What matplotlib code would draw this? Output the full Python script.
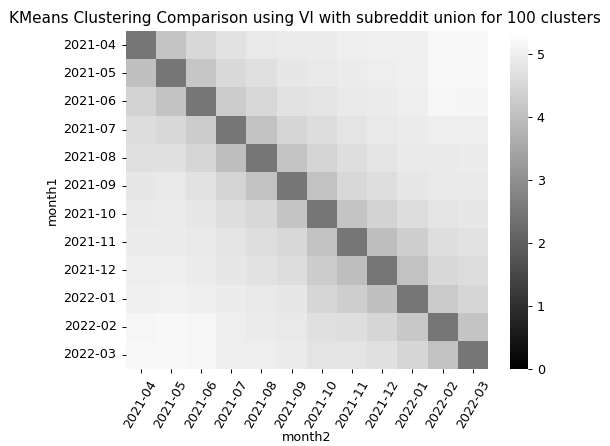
import numpy as np
import pandas as pd
import matplotlib
matplotlib.use("Agg")
import matplotlib.pyplot as plt
import seaborn as sns

months = ["2021-04", "2021-05", "2021-06", "2021-07", "2021-08", "2021-09",
          "2021-10", "2021-11", "2021-12", "2022-01", "2022-02", "2022-03"]

# VI values (diagonal shown as mid gray)
row_2021_04 = [2.47, 4.11, 4.53, 4.74, 4.87, 4.93, 4.95, 5.01, 5.03, 5.03, 5.20, 5.22]
row_2021_05 = [4.03, 2.47, 4.15, 4.57, 4.70, 4.83, 4.89, 4.95, 4.99, 5.03, 5.20, 5.20]
row_2021_06 = [4.41, 4.09, 2.47, 4.28, 4.53, 4.74, 4.78, 4.87, 4.93, 4.99, 5.16, 5.14]
row_2021_07 = [4.62, 4.53, 4.28, 2.47, 4.07, 4.49, 4.62, 4.78, 4.87, 4.95, 4.99, 4.99]
row_2021_08 = [4.70, 4.70, 4.49, 3.99, 2.47, 4.11, 4.45, 4.66, 4.78, 4.87, 4.91, 4.95]
row_2021_09 = [4.83, 4.87, 4.74, 4.45, 4.07, 2.47, 4.07, 4.53, 4.66, 4.83, 4.87, 4.91]
row_2021_10 = [4.91, 4.93, 4.83, 4.66, 4.53, 4.11, 2.47, 4.11, 4.41, 4.62, 4.78, 4.83]
row_2021_11 = [4.95, 4.95, 4.87, 4.78, 4.66, 4.53, 4.07, 2.47, 3.99, 4.32, 4.66, 4.74]
row_2021_12 = [4.99, 5.01, 4.95, 4.83, 4.74, 4.62, 4.28, 3.99, 2.47, 4.07, 4.53, 4.62]
row_2022_01 = [5.03, 5.05, 5.01, 4.95, 4.87, 4.83, 4.49, 4.32, 4.03, 2.47, 4.24, 4.49]
row_2022_02 = [5.16, 5.20, 5.16, 4.99, 4.93, 4.87, 4.70, 4.66, 4.49, 4.20, 2.47, 4.11]
row_2022_03 = [5.20, 5.20, 5.16, 4.99, 4.99, 4.95, 4.78, 4.78, 4.70, 4.49, 4.07, 2.47]

rows = [row_2021_04, row_2021_05, row_2021_06, row_2021_07, row_2021_08, row_2021_09,
        row_2021_10, row_2021_11, row_2021_12, row_2022_01, row_2022_02, row_2022_03]

df = pd.DataFrame(rows, index=months, columns=months)
df.index.name = "month1"
df.columns.name = "month2"

DPI = 91.5
W, H = 610, 446
fig = plt.figure(figsize=(W / DPI, H / DPI), dpi=DPI)
ax = fig.add_axes([125.5 / W, 1 - 369 / H, (488 - 125.5) / W, (369 - 31) / H])
cax = fig.add_axes([510 / W, 1 - 369 / H, (528 - 510) / W, (369 - 32) / H])

sns.heatmap(df, ax=ax, cbar_ax=cax, cmap="gray", vmin=0, vmax=5.35)
ax.set_title("KMeans Clustering Comparison using VI with subreddit union for 100 clusters",
             x=0.495)
ax.set_xticklabels(ax.get_xticklabels(), rotation=60)
ax.set_yticklabels(ax.get_yticklabels(), rotation=0)
ax.set_xlabel("month2", labelpad=0.5)

fig.savefig("out.png", dpi=DPI)
